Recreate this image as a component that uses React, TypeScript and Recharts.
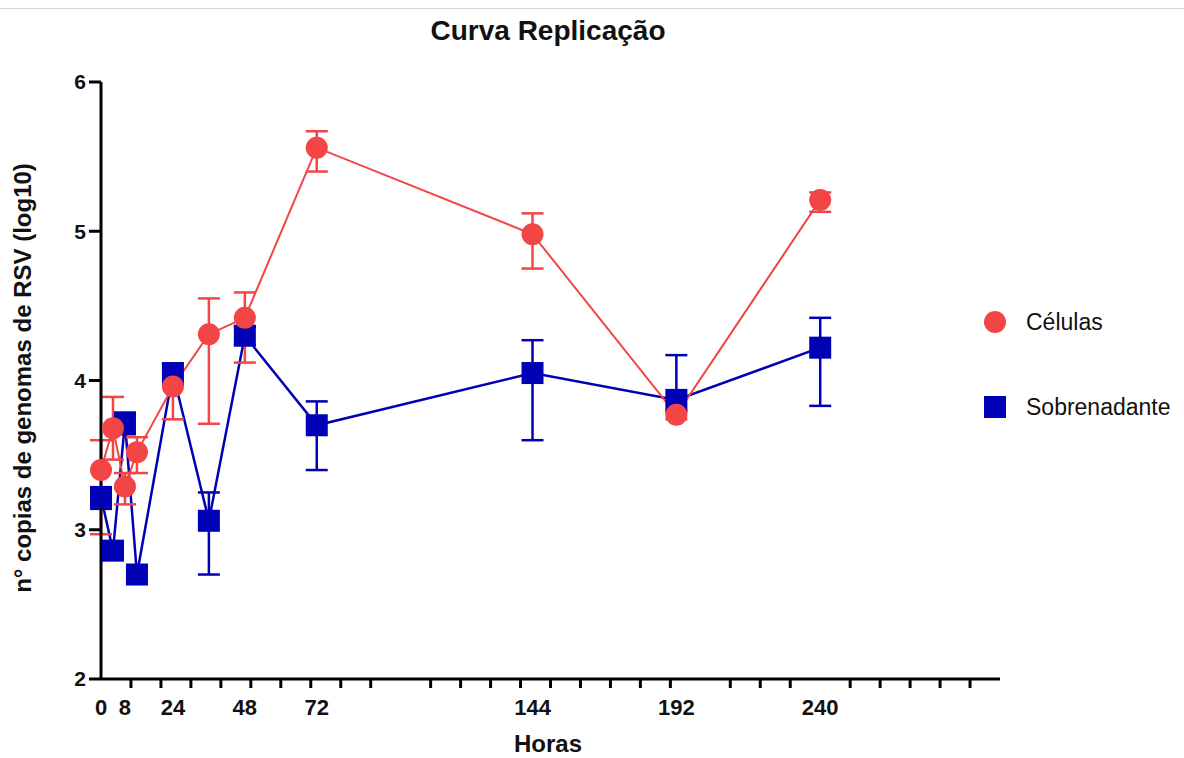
import React from 'react';
import { LineChart, Line, XAxis, YAxis, ErrorBar, Label } from 'recharts';

const horas = [0, 4, 8, 12, 24, 36, 48, 72, 144, 192, 240];
const celulas = [3.40, 3.68, 3.29, 3.52, 3.96, 4.31, 4.42, 5.56, 4.98, 3.77, 5.21];
const celulasErrLow = [0.43, 0.21, 0.12, 0.14, 0.22, 0.60, 0.30, 0.16, 0.23, 0.03, 0.08];
const celulasErrHigh = [0.20, 0.21, 0.09, 0.10, 0.15, 0.24, 0.17, 0.11, 0.14, 0.03, 0.05];
const sobrenadante = [3.22, 2.86, 3.72, 2.70, 4.05, 3.06, 4.30, 3.70, 4.05, 3.87, 4.22];
const sobrenadanteErrLow = [0.08, 0.05, 0.08, 0.05, 0.08, 0.36, 0.06, 0.30, 0.45, 0.08, 0.39];
const sobrenadanteErrHigh = [0.06, 0.05, 0.06, 0.05, 0.06, 0.19, 0.06, 0.16, 0.22, 0.30, 0.20];

const xLabelTicks = [0, 8, 24, 48, 72, 144, 192, 240];
const xMinorTicks = [10, 20, 30, 40, 50, 60, 70, 80, 90, 110, 120, 130, 140, 150, 160, 170, 180, 190, 210, 220, 230, 250, 260, 270, 280, 290];
const yTicks = [2, 3, 4, 5, 6];

const RED = '#f24545';
const BLUE = '#0000b4';
const FONT = '"Liberation Sans", Arial, Helvetica, sans-serif';

const data = horas.map((h, i) => ({
  hora: h,
  celulas: celulas[i],
  celErr: [celulasErrLow[i], celulasErrHigh[i]],
  sobrenadante: sobrenadante[i],
  sobErr: [sobrenadanteErrLow[i], sobrenadanteErrHigh[i]],
}));

const XTick = (props: any) => {
  const { x, y, payload } = props;
  const v = payload.value;
  if (xLabelTicks.includes(v)) {
    return (
      <text x={x} y={y + 36} textAnchor="middle" fontFamily={FONT} fontWeight="bold" fontSize={22} fill="#111">
        {v}
      </text>
    );
  }
  return <line x1={x} x2={x} y1={y} y2={y + 9} stroke="#000" strokeWidth={3} />;
};

const CircleDot = (props: any) => {
  const { cx, cy } = props;
  if (cx == null || cy == null) return null;
  return <circle cx={cx} cy={cy} r={11} fill={RED} stroke="none" />;
};

const SquareDot = (props: any) => {
  const { cx, cy } = props;
  if (cx == null || cy == null) return null;
  return <rect x={cx - 11} y={cy - 11} width={22} height={22} fill={BLUE} stroke="none" />;
};

export default function App() {
  return (
    <div style={{ position: 'absolute', left: 0, top: 0, width: 1184, height: 758, background: '#fff', fontFamily: FONT, overflow: 'hidden' }}>
      <div style={{ position: 'absolute', left: 0, top: 8, width: 1184, height: 1, background: '#d4d4d4' }} />
      <div
        style={{
          position: 'absolute',
          left: 0,
          width: 1096,
          top: 15,
          textAlign: 'center',
          fontSize: 28,
          fontWeight: 'bold',
          color: '#111',
          fontFamily: FONT,
        }}
      >
        Curva Replicação
      </div>
      <div style={{ position: 'absolute', left: 0, top: 0 }}>
        <LineChart width={1184} height={758} data={data} margin={{ top: 82, right: 184, left: 41, bottom: 0 }}>
          <XAxis
            dataKey="hora"
            type="number"
            domain={[0, 300]}
            ticks={[...xLabelTicks, ...xMinorTicks]}
            interval={0}
            tickLine={false}
            tickSize={0}
            tickMargin={0}
            tick={<XTick />}
            axisLine={{ stroke: '#000', strokeWidth: 3 }}
            height={79}
          >
            <Label
              content={() => (
                <text x={548} y={752} textAnchor="middle" fontFamily={FONT} fontWeight="bold" fontSize={24} fill="#111">
                  Horas
                </text>
              )}
            />
          </XAxis>
          <YAxis
            type="number"
            domain={[2, 6]}
            ticks={yTicks}
            interval={0}
            width={60}
            tickSize={12}
            tickMargin={3}
            tickLine={{ stroke: '#000', strokeWidth: 3 }}
            axisLine={{ stroke: '#000', strokeWidth: 3 }}
            tick={{ fill: '#111', fontSize: 21, fontWeight: 'bold', fontFamily: FONT }}
          >
            <Label
              content={() => (
                <text
                  x={25}
                  y={378}
                  transform="rotate(-90 25 378)"
                  textAnchor="middle"
                  dominantBaseline="middle"
                  fontFamily={FONT}
                  fontWeight="bold"
                  fontSize={24}
                  fill="#111"
                >
                  n° copias de genomas de RSV (log10)
                </text>
              )}
            />
          </YAxis>
          <Line
            dataKey="sobrenadante"
            stroke={BLUE}
            strokeWidth={2.5}
            dot={<SquareDot />}
            activeDot={false}
            isAnimationActive={false}
          >
            <ErrorBar dataKey="sobErr" direction="y" width={11} stroke={BLUE} strokeWidth={2.5} isAnimationActive={false} />
          </Line>
          <Line
            dataKey="celulas"
            stroke={RED}
            strokeWidth={2}
            dot={<CircleDot />}
            activeDot={false}
            isAnimationActive={false}
          >
            <ErrorBar dataKey="celErr" direction="y" width={11} stroke={RED} strokeWidth={2.5} isAnimationActive={false} />
          </Line>
        </LineChart>
      </div>
      <div style={{ position: 'absolute', left: 983, top: 306, display: 'flex', alignItems: 'center', height: 32 }}>
        <svg width={24} height={24} style={{ marginRight: 19 }}>
          <circle cx={12} cy={12} r={11} fill={RED} />
        </svg>
        <span style={{ fontSize: 23, color: '#111', fontFamily: FONT, whiteSpace: 'nowrap' }}>Células</span>
      </div>
      <div style={{ position: 'absolute', left: 983, top: 391, display: 'flex', alignItems: 'center', height: 32 }}>
        <svg width={24} height={24} style={{ marginRight: 19 }}>
          <rect x={1} y={1} width={22} height={22} fill={BLUE} />
        </svg>
        <span style={{ fontSize: 23, color: '#111', fontFamily: FONT, whiteSpace: 'nowrap' }}>Sobrenadante</span>
      </div>
    </div>
  );
}
